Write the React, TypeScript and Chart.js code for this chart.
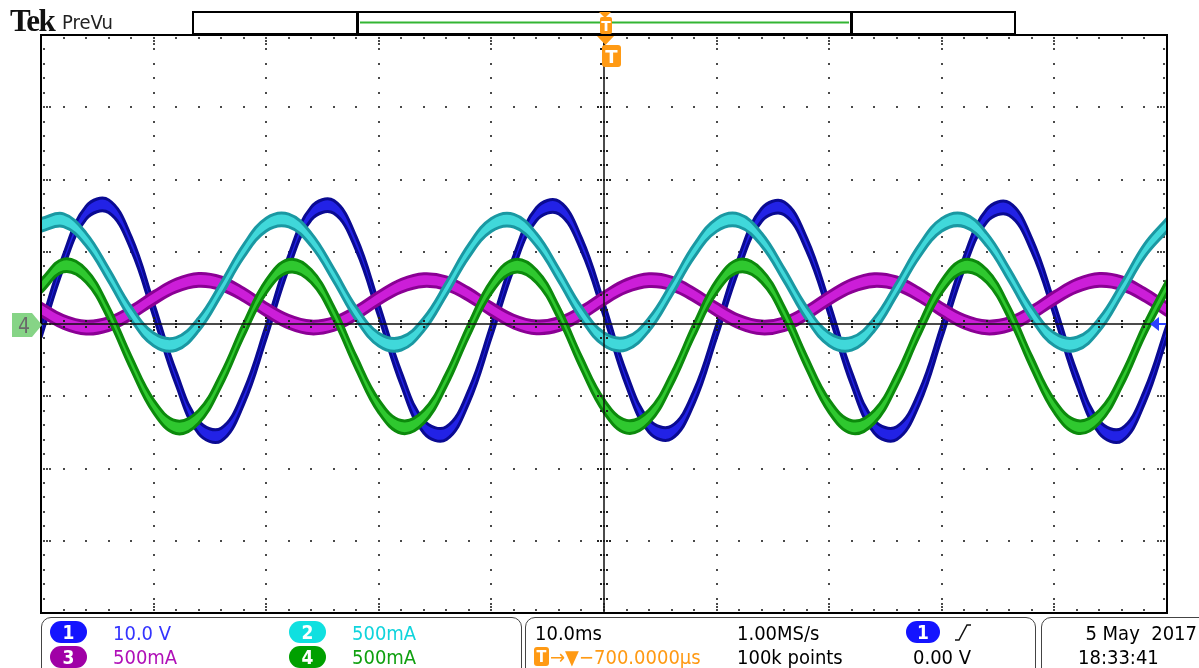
import React, { useEffect, useRef } from "react";
import { Chart, registerables } from "chart.js";

Chart.register(...registerables);

// ---- values: time in ms (10 ms/div), one sample per minor division (2 ms) ----
const timeMs = [
  -50, -48, -46, -44, -42, -40, -38, -36, -34, -32,
  -30, -28, -26, -24, -22, -20, -18, -16, -14, -12,
  -10, -8, -6, -4, -2, 0, 2, 4, 6, 8,
  10, 12, 14, 16, 18, 20, 22, 24, 26, 28,
  30, 32, 34, 36, 38, 40, 42, 44, 46, 48,
  50,
];

// Channel 1 (10.0 V/div), volts
const ch1Volts = [
  -1.0, 8.7, 15.4, 16.3, 11.2, 2.0, -7.5, -14.3, -15.3, -10.2,
  -1.1, 8.6, 15.3, 16.2, 11.1, 1.9, -7.6, -14.2, -15.1, -10.0,
  -0.9, 8.6, 15.2, 16.1, 11.0, 2.0, -7.7, -14.1, -15.0, -10.1,
  -1.0, 8.5, 15.1, 16.0, 11.0, 2.1, -7.6, -14.2, -15.1, -10.2,
  -1.0, 8.5, 15.0, 15.9, 10.9, 2.0, -7.6, -14.3, -15.3, -10.1,
  -1.0,
];

// Channel 2 (500 mA/div), mA
const ch2mA = [
  686, 718, 585, 340, 74, -106, -138, -3, 242, 506,
  688, 716, 583, 338, 72, -108, -136, -2, 243, 507,
  686, 715, 582, 337, 74, -105, -135, -3, 241, 505,
  685, 716, 584, 339, 75, -106, -137, -4, 242, 506,
  687, 717, 583, 338, 73, -107, -136, -3, 243, 507,
  686,
];

// Channel 3 (500 mA/div), mA
const ch3mA = [
  101, 14, -25, -1, 78, 180, 266, 305, 281, 203,
  100, 15, -24, 0, 77, 179, 265, 304, 282, 204,
  102, 16, -23, -1, 76, 178, 264, 303, 280, 202,
  101, 15, -24, -2, 77, 179, 265, 304, 281, 203,
  100, 15, -24, -1, 78, 180, 266, 305, 281, 203,
  101,
];

// Channel 4 (500 mA/div), mA
const ch4mA = [
  262, 405, 333, 76, -268, -570, -714, -643, -386, -40,
  259, 402, 331, 75, -269, -569, -712, -641, -385, -41,
  258, 401, 330, 74, -270, -568, -711, -640, -384, -42,
  259, 403, 332, 75, -268, -569, -713, -642, -385, -40,
  260, 402, 331, 76, -269, -570, -712, -641, -386, -41,
  259,
];

// scope settings
const MS_PER_DIV = 10;
const VOLTS_PER_DIV = 10;
const MA_PER_DIV = 500;
const H_DIVS = 10;
const V_DIVS = 8;
const X_MIN = -(H_DIVS / 2) * MS_PER_DIV;
const X_MAX = (H_DIVS / 2) * MS_PER_DIV;
const BAND_HALF_DIV = 0.088; // visual thickness of the noisy trace band

const UI_FONT = "'DejaVu Sans Condensed', 'Liberation Sans Narrow', 'DejaVu Sans', sans-serif";

const scopeGrid = {
  id: "scopeGrid",
  _pos(chart: any) {
    const xs = chart.scales.x;
    const ys = chart.scales.yA;
    const minorX: number[] = [];
    const majorX: number[] = [];
    const minorY: number[] = [];
    const majorY: number[] = [];
    for (let i = 0; i <= H_DIVS * 5; i++) minorX.push(xs.getPixelForValue(X_MIN + (i * MS_PER_DIV) / 5));
    for (let i = 0; i <= H_DIVS; i++) majorX.push(xs.getPixelForValue(X_MIN + i * MS_PER_DIV));
    const yMin = -(V_DIVS / 2) * MA_PER_DIV;
    for (let i = 0; i <= V_DIVS * 5; i++) minorY.push(ys.getPixelForValue(yMin + (i * MA_PER_DIV) / 5));
    for (let i = 0; i <= V_DIVS; i++) majorY.push(ys.getPixelForValue(yMin + i * MA_PER_DIV));
    return { minorX, majorX, minorY, majorY, cx: xs.getPixelForValue(0), cy: ys.getPixelForValue(0) };
  },
  beforeDatasetsDraw(chart: any) {
    const { ctx, chartArea: a } = chart;
    const { minorX, majorX, minorY, majorY } = (scopeGrid as any)._pos(chart);
    ctx.save();
    ctx.fillStyle = "#4a4a4a";
    const dot = (x: number, y: number) => ctx.fillRect(Math.round(x) - 1, Math.round(y) - 1, 2, 2);
    majorX.slice(1, -1).forEach((x: number) => minorY.forEach((y: number) => dot(x, y)));
    majorY.slice(1, -1).forEach((y: number) => minorX.forEach((x: number) => dot(x, y)));
    // edge ticks
    minorX.forEach((x: number) => {
      dot(x, a.top + 3);
      dot(x, a.bottom - 3);
    });
    majorX.forEach((x: number) => {
      dot(x, a.top + 6);
      dot(x, a.top + 9);
      dot(x, a.bottom - 6);
      dot(x, a.bottom - 9);
    });
    minorY.forEach((y: number) => {
      dot(a.left + 3, y);
      dot(a.right - 3, y);
    });
    majorY.forEach((y: number) => {
      dot(a.left + 6, y);
      dot(a.left + 9, y);
      dot(a.right - 6, y);
      dot(a.right - 9, y);
    });
    ctx.restore();
  },
  afterDatasetsDraw(chart: any) {
    const { ctx, chartArea: a } = chart;
    const { minorX, majorX, minorY, majorY, cx, cy } = (scopeGrid as any)._pos(chart);
    ctx.save();
    ctx.strokeStyle = "#111";
    ctx.lineWidth = 1.5;
    ctx.beginPath();
    ctx.moveTo(a.left, cy);
    ctx.lineTo(a.right, cy);
    ctx.moveTo(cx, a.top);
    ctx.lineTo(cx, a.bottom);
    ctx.stroke();
    ctx.fillStyle = "#222";
    const dot = (x: number, y: number) => ctx.fillRect(Math.round(x) - 1, Math.round(y) - 1, 2, 2);
    minorX.forEach((x: number) => {
      dot(x, cy - 3);
      dot(x, cy + 3);
    });
    majorX.forEach((x: number) => {
      dot(x, cy - 6);
      dot(x, cy + 6);
    });
    minorY.forEach((y: number) => {
      dot(cx - 3, y);
      dot(cx + 3, y);
    });
    majorY.forEach((y: number) => {
      dot(cx - 6, y);
      dot(cx + 6, y);
    });
    ctx.lineWidth = 2;
    ctx.strokeStyle = "#000";
    ctx.strokeRect(a.left, a.top, a.right - a.left, a.bottom - a.top);
    ctx.restore();
  },
};

const Badge = ({ n, color, left, top, w = 37 }: { n: string; color: string; left: number; top: number; w?: number }) => (
  <div
    style={{
      position: "absolute",
      left,
      top,
      width: w,
      height: 22,
      borderRadius: 11,
      background: color,
      color: "#fff",
      fontFamily: UI_FONT,
      fontWeight: "bold",
      fontSize: 19,
      lineHeight: "22px",
      textAlign: "center",
    }}
  >
    {n}
  </div>
);

const Txt = ({ t, left, top, color = "#000", right }: { t: string; left?: number; top: number; color?: string; right?: number }) => (
  <div
    style={{
      position: "absolute",
      left,
      right,
      top,
      color,
      fontFamily: UI_FONT,
      fontSize: 20,
      lineHeight: "20px",
      whiteSpace: "pre",
    }}
  >
    {t}
  </div>
);

const boxStyle = (left: number, width: number): React.CSSProperties => ({
  position: "absolute",
  left,
  top: 617,
  width,
  height: 70,
  border: "1.5px solid #444",
  borderRadius: 10,
  boxSizing: "border-box",
});

export default function App() {
  const ref = useRef<HTMLCanvasElement>(null);

  useEffect(() => {
    const canvas = ref.current;
    if (!canvas) return;
    const channels = [
      { vals: ch1Volts, axis: "yV", half: BAND_HALF_DIV * VOLTS_PER_DIV, fill: "#2222e6", edge: "#0a0a92" },
      { vals: ch3mA, axis: "yA", half: BAND_HALF_DIV * MA_PER_DIV, fill: "#cc1ed8", edge: "#8a0094" },
      { vals: ch2mA, axis: "yA", half: BAND_HALF_DIV * MA_PER_DIV, fill: "#40d8da", edge: "#1a98a2" },
      { vals: ch4mA, axis: "yA", half: BAND_HALF_DIV * MA_PER_DIV, fill: "#2fc82f", edge: "#0c8a0c" },
    ];
    const datasets: any[] = [];
    channels.forEach((ch) => {
      const up = timeMs.map((t, i) => ({ x: t, y: ch.vals[i] + ch.half }));
      const lo = timeMs.map((t, i) => ({ x: t, y: ch.vals[i] - ch.half }));
      const base = { yAxisID: ch.axis, pointRadius: 0, tension: 0.4, clip: 0 };
      const iUp = datasets.length;
      datasets.push({ ...base, data: up, borderWidth: 0, borderColor: "rgba(0,0,0,0)", fill: false });
      datasets.push({ ...base, data: lo, borderWidth: 0, borderColor: "rgba(0,0,0,0)", backgroundColor: ch.fill, fill: iUp });
      datasets.push({ ...base, data: up, borderWidth: 3, borderColor: ch.edge, fill: false });
      datasets.push({ ...base, data: lo, borderWidth: 3, borderColor: ch.edge, fill: false });
    });
    const n = datasets.length;
    datasets.forEach((d, i) => (d.order = n - i));

    const chart = new Chart(canvas, {
      type: "line",
      data: { datasets },
      options: {
        animation: false,
        responsive: false,
        events: [],
        layout: { padding: { left: 41, top: 35, right: 32, bottom: 55 } },
        plugins: { legend: { display: false }, tooltip: { enabled: false }, title: { display: false } },
        scales: {
          x: { type: "linear", min: X_MIN, max: X_MAX, display: false },
          yV: { type: "linear", min: -(V_DIVS / 2) * VOLTS_PER_DIV, max: (V_DIVS / 2) * VOLTS_PER_DIV, display: false },
          yA: { type: "linear", min: -(V_DIVS / 2) * MA_PER_DIV, max: (V_DIVS / 2) * MA_PER_DIV, display: false },
        },
      } as any,
      plugins: [scopeGrid as any],
    });
    return () => chart.destroy();
  }, []);

  const orange = "#ff9a14";

  return (
    <div style={{ position: "relative", width: 1199, height: 668, overflow: "hidden", background: "#fff" }}>
      <style>{"body{margin:0}"}</style>
      <canvas ref={ref} width={1199} height={668} style={{ position: "absolute", left: 0, top: 0, display: "block" }} />

      {/* header */}
      <div
        style={{
          position: "absolute",
          left: 10,
          top: 5,
          fontFamily: "'Liberation Serif', 'DejaVu Serif', serif",
          fontWeight: "bold",
          fontSize: 31,
          lineHeight: "32px",
          letterSpacing: -1.5,
          color: "#111",
        }}
      >
        Tek
      </div>
      <div style={{ position: "absolute", left: 62, top: 12, fontFamily: UI_FONT, fontSize: 20, lineHeight: "20px", color: "#222" }}>PreVu</div>

      <svg width={1199} height={668} style={{ position: "absolute", left: 0, top: 0, pointerEvents: "none" }}>
        {/* record view */}
        <rect x={193} y={12} width={822} height={22} fill="none" stroke="#000" strokeWidth={2} />
        <rect x={356} y={11} width={3} height={24} fill="#000" />
        <rect x={850} y={11} width={3} height={24} fill="#000" />
        <line x1={360} y1={22.5} x2={849} y2={22.5} stroke="#33b533" strokeWidth={2} />
        {/* trigger markers */}
        <polygon points="599,12 611,12 605,18" fill={orange} />
        <rect x={600} y={17} width={12} height={17} rx={2} fill={orange} />
        <text x={606} y={31} fill="#fff" fontFamily="DejaVu Sans" fontWeight="bold" fontSize={14} textAnchor="middle">T</text>
        <polygon points="597,36 614,36 605.5,45" fill={orange} />
        <rect x={602} y={45} width={19} height={22} rx={3} fill={orange} />
        <text x={611.5} y={63} fill="#fff" fontFamily="DejaVu Sans" fontWeight="bold" fontSize={18} textAnchor="middle">T</text>
        {/* ch4 ground marker */}
        <polygon points="12,313 32,313 42,325 32,337 12,337" fill="#86d486" />
        <text x={24} y={333} fill="#6a6a6a" fontFamily={UI_FONT} fontSize={21} textAnchor="middle">4</text>
        {/* trigger level */}
        <polygon points="1150,324 1159,317 1159,331" fill="#2a40ff" />
        <line x1={1158} y1={324} x2={1166} y2={324} stroke="#2a40ff" strokeWidth={2} />
        {/* slope glyph */}
        <path d="M955,640 L959,640 L967,625 L971,625" fill="none" stroke="#111" strokeWidth={1.5} />
      </svg>

      {/* bottom status boxes */}
      <div style={boxStyle(41, 481)} />
      <div style={boxStyle(525, 511)} />
      <div style={boxStyle(1041, 170)} />

      <Badge n="1" color="#1414ff" left={50} top={621} />
      <Txt t="10.0 V" left={113} top={623} color="#3434ff" />
      <Badge n="2" color="#10e0e0" left={289} top={621} />
      <Txt t="500mA" left={352} top={623} color="#10d4dc" />
      <Badge n="3" color="#a000a6" left={50} top={646} />
      <Txt t="500mA" left={113} top={647} color="#b010b8" />
      <Badge n="4" color="#00a000" left={289} top={646} />
      <Txt t="500mA" left={352} top={647} color="#10a010" />

      <Txt t="10.0ms" left={535} top={623} />
      <Txt t="1.00MS/s" left={737} top={623} />
      <Badge n="1" color="#1414ff" left={906} top={621} w={34} />
      <div
        style={{
          position: "absolute",
          left: 534,
          top: 647,
          width: 15,
          height: 19,
          borderRadius: 3,
          background: orange,
          color: "#fff",
          fontFamily: UI_FONT,
          fontWeight: "bold",
          fontSize: 16,
          lineHeight: "19px",
          textAlign: "center",
        }}
      >
        T
      </div>
      <Txt t="→▼−700.0000µs" left={550} top={647} color={orange} />
      <Txt t="100k points" left={737} top={647} />
      <Txt t="0.00 V" left={913} top={647} />

      <Txt t="5 May  2017" right={2} top={623} />
      <Txt t="18:33:41" left={1078} top={647} />
    </div>
  );
}
